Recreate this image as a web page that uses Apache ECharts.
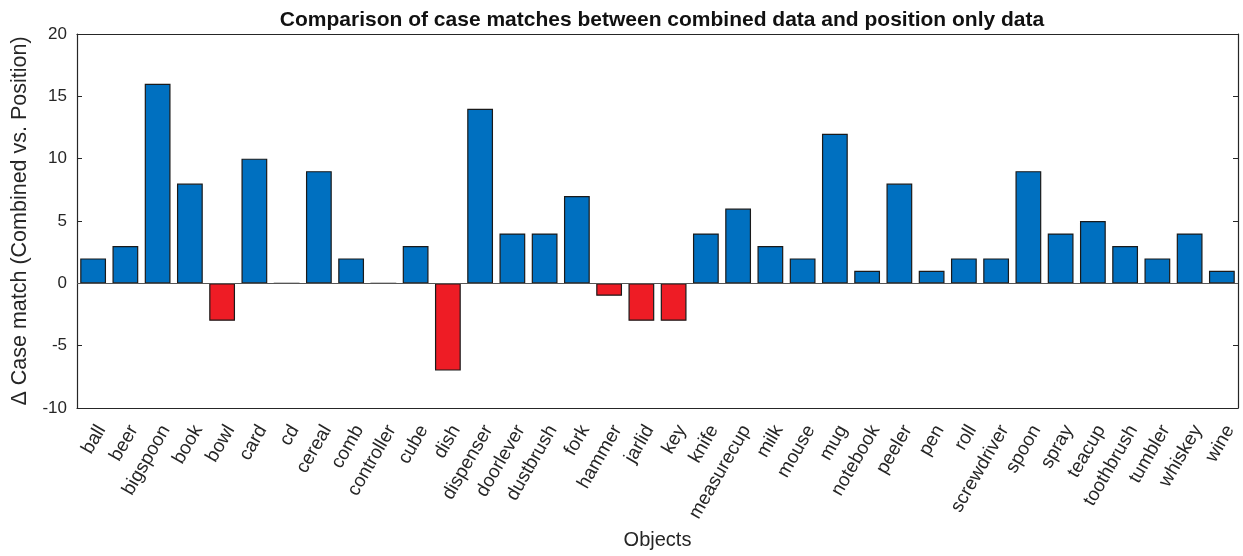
<!DOCTYPE html>
<html>
<head>
<meta charset="utf-8">
<script src="https://cdn.jsdelivr.net/npm/echarts@6/dist/echarts.min.js"></script>
<style>
  html, body { margin: 0; padding: 0; background: #fff; }
  #chart { width: 1243px; height: 556px; }
</style>
</head>
<body>
<div id="chart"></div>
<script>
// Objects and the difference in case matches (combined minus position only)
const objects = ['ball', 'beer', 'bigspoon', 'book', 'bowl', 'card', 'cd', 'cereal', 'comb', 'controller',
  'cube', 'dish', 'dispenser', 'doorlever', 'dustbrush', 'fork', 'hammer', 'jarlid', 'key', 'knife',
  'measurecup', 'milk', 'mouse', 'mug', 'notebook', 'peeler', 'pen', 'roll', 'screwdriver', 'spoon',
  'spray', 'teacup', 'toothbrush', 'tumbler', 'whiskey', 'wine'];
const deltaMatch = [2, 3, 16, 8, -3, 10, 0, 9, 2, 0,
  3, -7, 14, 4, 4, 7, -1, -3, -3, 4,
  6, 3, 2, 12, 1, 8, 1, 2, 2, 9,
  4, 5, 3, 2, 4, 1];
const yTicks = [-10, -5, 0, 5, 10, 15, 20];

const FONT = '"Liberation Sans", Arial, sans-serif';
const INK = '#262626';
const POS = '#0070C0';
const NEG = '#EE1C25';

const chart = echarts.init(document.getElementById('chart'));
const grid = { left: 77, right: 5, top: 34, bottom: 148 };

chart.setOption({
  animation: false,
  title: {
    text: 'Comparison of case matches between combined data and position only data',
    left: 657, top: 5, textAlign: 'center',
    textStyle: { fontFamily: FONT, fontSize: 21, fontWeight: 'bold', color: '#111' }
  },
  grid: grid,
  xAxis: [{
    type: 'category',
    data: objects,
    position: 'bottom',
    name: 'Objects',
    nameLocation: 'middle',
    nameGap: 122,
    nameTextStyle: { fontFamily: FONT, fontSize: 20, color: INK },
    axisLine: { onZero: false, lineStyle: { color: INK, width: 1.2 } },
    axisTick: { inside: true, length: 5, alignWithLabel: true, lineStyle: { color: INK } },
    axisLabel: {
      rotate: 60, interval: 0, margin: 14, verticalAlign: 'top',
      fontFamily: FONT, fontSize: 19, color: INK
    }
  }, {
    type: 'category',
    data: objects,
    position: 'top',
    axisLine: { onZero: false, lineStyle: { color: INK, width: 1.2 } },
    axisTick: { inside: true, length: 5, alignWithLabel: true, lineStyle: { color: INK } },
    axisLabel: { show: false }
  }],
  yAxis: [{
    type: 'value',
    min: yTicks[0], max: yTicks[yTicks.length - 1], interval: 5,
    name: '\u0394 Case match (Combined vs. Position)',
    nameLocation: 'middle',
    nameGap: 40,
    nameTextStyle: { fontFamily: FONT, fontSize: 21.5, color: INK },
    axisLine: { show: true, lineStyle: { color: INK, width: 1.2 } },
    axisTick: { show: true, inside: true, length: 5, lineStyle: { color: INK } },
    axisLabel: { fontFamily: FONT, fontSize: 17, color: INK, margin: 10 },
    splitLine: { show: false }
  }, {
    type: 'value',
    position: 'right',
    min: yTicks[0], max: yTicks[yTicks.length - 1], interval: 5,
    axisLine: { show: true, lineStyle: { color: INK, width: 1.2 } },
    axisTick: { show: true, inside: true, length: 5, lineStyle: { color: INK } },
    axisLabel: { show: false },
    splitLine: { show: false }
  }],
  series: [{
    type: 'bar',
    data: deltaMatch,
    barWidth: '80%',
    itemStyle: {
      color: p => (p.value < 0 ? NEG : POS),
      borderColor: '#1a1a1a',
      borderWidth: 1.2
    },
    markLine: {
      silent: true,
      symbol: 'none',
      label: { show: false },
      lineStyle: { color: '#555', type: 'solid', width: 1.2 },
      data: [{ yAxis: 0 }]
    }
  }]
});
</script>
</body>
</html>
